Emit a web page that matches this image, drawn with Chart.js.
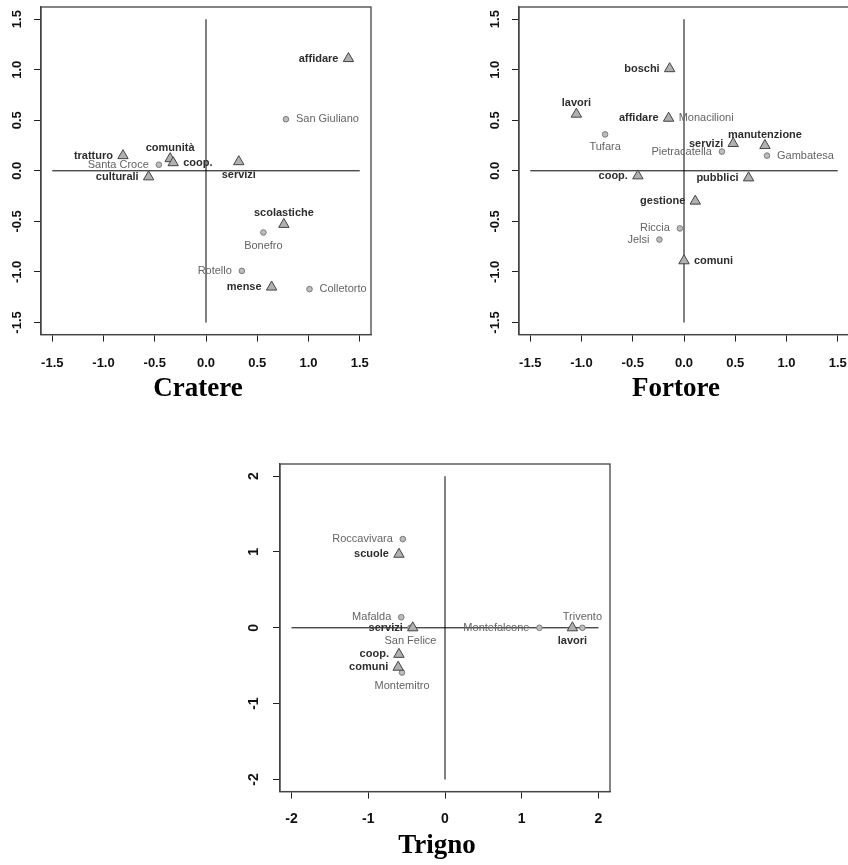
<!DOCTYPE html>
<html lang="it">
<head>
<meta charset="UTF-8">
<title>Cratere, Fortore, Trigno</title>
<script src="https://cdn.jsdelivr.net/npm/chart.js"></script>
<style>
  html, body { margin: 0; padding: 0; background: #fff; width: 848px; height: 865px; overflow: hidden; }
  canvas { position: absolute; }
</style>
</head>
<body>
<canvas id="cratere" style="left:0px;top:0px;width:400px;height:410px"></canvas>
<canvas id="fortore" style="left:478px;top:0px;width:400px;height:410px"></canvas>
<canvas id="trigno" style="left:239px;top:457px;width:400px;height:410px"></canvas>

<script>
// --- data -------------------------------------------------------------
const halfTicks = [-1.5, -1, -0.5, 0, 0.5, 1, 1.5];
const unitTicks = [-2, -1, 0, 1, 2];

// Cratere
const crTerms = ['affidare', 'tratturo', 'comunità', 'coop.', 'culturali', 'servizi', 'scolastiche', 'mense'];
const crTermX = [1.39, -0.81, -0.35, -0.32, -0.56, 0.32, 0.76, 0.64];
const crTermY = [1.11, 0.15, 0.12, 0.08, -0.06, 0.09, -0.53, -1.15];
const crTermSide = ['left', 'left', 'above', 'right', 'left', 'below', 'above', 'left'];
const crTowns = ['San Giuliano', 'Santa Croce', 'Bonefro', 'Rotello', 'Colletorto'];
const crTownX = [0.78, -0.46, 0.56, 0.35, 1.01];
const crTownY = [0.51, 0.06, -0.61, -0.99, -1.17];
const crTownSide = ['right', 'left', 'below', 'left', 'right'];

// Fortore
const foTerms = ['boschi', 'lavori', 'affidare', 'servizi', 'manutenzione', 'coop.', 'pubblici', 'gestione', 'comuni'];
const foTermX = [-0.14, -1.05, -0.15, 0.48, 0.79, -0.45, 0.63, 0.11, 0.0];
const foTermY = [1.01, 0.56, 0.52, 0.27, 0.25, -0.05, -0.07, -0.30, -0.89];
const foTermSide = ['left', 'above', 'left', 'left', 'above', 'left', 'left', 'left', 'right'];
const foTowns = ['Monacilioni', 'Tufara', 'Pietracatella', 'Gambatesa', 'Riccia', 'Jelsi'];
const foTownX = [-0.15, -0.77, 0.37, 0.81, -0.04, -0.24];
const foTownY = [0.52, 0.36, 0.19, 0.15, -0.57, -0.68];
const foTownSide = ['right', 'below', 'left', 'right', 'left', 'left'];

// Trigno
const trTerms = ['scuole', 'servizi', 'coop.', 'comuni', 'lavori'];
const trTermX = [-0.60, -0.42, -0.60, -0.61, 1.66];
const trTermY = [0.97, 0.0, -0.35, -0.52, 0.0];
const trTermSide = ['left', 'left', 'left', 'left', 'below'];
const trTowns = ['Roccavivara', 'Mafalda', 'San Felice', 'Montemitro', 'Montefalcone', 'Trivento'];
const trTownX = [-0.55, -0.57, -0.45, -0.56, 1.23, 1.79];
const trTownY = [1.17, 0.14, 0.0, -0.59, 0.0, 0.0];
const trTownSide = ['left', 'left', 'below', 'below', 'left', 'above'];

// --- drawing ------------------------------------------------------------
Chart.defaults.font.family = '"Liberation Sans", Arial, sans-serif';

const pts = (xs, ys) => xs.map((x, i) => ({ x: x, y: ys[i] }));

// frame round the plot region + vertical y tick labels (R style)
const boxPlugin = {
  id: 'box',
  afterDatasetsDraw(chart, args, opts) {
    const a = chart.chartArea, ctx = chart.ctx;
    ctx.save();
    ctx.strokeStyle = '#444';
    ctx.lineWidth = 1.3;
    ctx.strokeRect(a.left, a.top, a.right - a.left, a.bottom - a.top);

    const ys = chart.scales.y;
    ctx.font = 'bold ' + opts.size + 'px "Liberation Sans", Arial, sans-serif';
    ctx.fillStyle = '#111';
    ctx.textAlign = 'center';
    ctx.textBaseline = 'middle';
    ys.ticks.forEach(t => {
      ctx.save();
      ctx.translate(a.left - opts.gap, ys.getPixelForValue(t.value));
      ctx.rotate(-Math.PI / 2);
      ctx.fillText(t.value.toFixed(opts.dec), 0, 0);
      ctx.restore();
    });
    ctx.restore();
  }
};

// text next to each point
const labelPlugin = {
  id: 'pointLabels',
  afterDatasetsDraw(chart) {
    const ctx = chart.ctx;
    chart.data.datasets.forEach((ds, i) => {
      if (!ds.names) return;
      const meta = chart.getDatasetMeta(i);
      ctx.save();
      ctx.font = ds.labelFont;
      ctx.fillStyle = ds.labelColor;
      meta.data.forEach((pt, j) => {
        let x = pt.x, y = pt.y;
        const side = ds.sides[j];
        ctx.textBaseline = 'middle';
        if (side === 'left') { ctx.textAlign = 'right'; x -= 10; }
        else if (side === 'right') { ctx.textAlign = 'left'; x += 10; }
        else if (side === 'above') { ctx.textAlign = 'center'; y -= 11; }
        else { ctx.textAlign = 'center'; y += 13; }
        ctx.fillText(ds.names[j], x, y);
      });
      ctx.restore();
    });
  }
};

function axisOpts(range, ticks, dec, isY, size, pad) {
  const o = {
    type: 'linear',
    position: isY ? 'left' : 'bottom',
    min: -range,
    max: range,
    afterBuildTicks: s => { s.ticks = ticks.map(v => ({ value: v })); },
    grid: { drawOnChartArea: false, drawTicks: true, tickLength: 7, color: '#222', lineWidth: 1 },
    border: { display: true, color: '#444', width: 1.3 },
    ticks: {
      font: { size: size, weight: 'bold' },
      color: '#111',
      padding: pad,
      autoSkip: false,
      maxRotation: 0,
      callback: v => Number(v).toFixed(dec)
    }
  };
  if (isY) {
    o.afterFit = s => { s.width = 41; };
    o.ticks.display = false;   // drawn upright-rotated by boxPlugin
  } else {
    o.afterFit = s => { s.height = 38; };
  }
  return o;
}

function drawPanel(id, title, xr, yr, lim, ticks, dec, tickSize, xPad, yGap, terms, towns) {
  new Chart(document.getElementById(id), {
    type: 'scatter',
    data: {
      datasets: [
        {
          data: [{ x: 0, y: -lim }, { x: 0, y: lim }],
          showLine: true, borderColor: '#808080', borderWidth: 2, pointRadius: 0, order: 5
        },
        {
          data: [{ x: -lim, y: 0 }, { x: lim, y: 0 }],
          showLine: true, borderColor: '#000', borderWidth: 1, pointRadius: 0, order: 4
        },
        {
          data: pts(towns.x, towns.y),
          names: towns.names, sides: towns.sides,
          labelFont: '11px "Liberation Sans", Arial, sans-serif', labelColor: '#646464',
          pointStyle: 'circle', pointRadius: 2.8,
          backgroundColor: '#bdbdbd', borderColor: '#7a7a7a', borderWidth: 1, order: 1
        },
        {
          data: pts(terms.x, terms.y),
          names: terms.names, sides: terms.sides,
          labelFont: 'bold 11px "Liberation Sans", Arial, sans-serif', labelColor: '#2e2e2e',
          pointStyle: 'triangle', pointRadius: 6,
          backgroundColor: '#b0b0b0', borderColor: '#444', borderWidth: 1, order: 0
        }
      ]
    },
    options: {
      responsive: false,
      animation: false,
      layout: { padding: { top: 5, left: 0, right: 4, bottom: 5 } },
      scales: {
        x: axisOpts(xr, ticks, dec, false, tickSize, xPad),
        y: axisOpts(yr, ticks, dec, true, tickSize, 0),
        // empty right-hand axis: only keeps the title centred like the original figure
        y2: {
          type: 'linear', position: 'right', display: true,
          grid: { display: false }, border: { display: false }, ticks: { display: false },
          afterFit: s => { s.width = 25; }
        }
      },
      plugins: {
        legend: { display: false },
        tooltip: { enabled: false },
        box: { size: tickSize, gap: yGap, dec: dec },
        title: {
          display: true,
          position: 'bottom',
          text: title,
          color: '#000',
          padding: 0,
          font: { family: '"Liberation Serif", "Times New Roman", serif', size: 27, weight: 'bold', lineHeight: 1.2 }
        }
      }
    },
    plugins: [boxPlugin, labelPlugin]
  });
}

drawPanel('cratere', 'Cratere', 1.61, 1.62, 1.5, halfTicks, 1, 13, 14.5, 23.5,
  { names: crTerms, x: crTermX, y: crTermY, sides: crTermSide },
  { names: crTowns, x: crTownX, y: crTownY, sides: crTownSide });

drawPanel('fortore', 'Fortore', 1.61, 1.62, 1.5, halfTicks, 1, 13, 14.5, 23.5,
  { names: foTerms, x: foTermX, y: foTermY, sides: foTermSide },
  { names: foTowns, x: foTownX, y: foTownY, sides: foTownSide });

drawPanel('trigno', 'Trigno', 2.15, 2.16, 2, unitTicks, 0, 14, 12.5, 26,
  { names: trTerms, x: trTermX, y: trTermY, sides: trTermSide },
  { names: trTowns, x: trTownX, y: trTownY, sides: trTownSide });
</script>
</body>
</html>
